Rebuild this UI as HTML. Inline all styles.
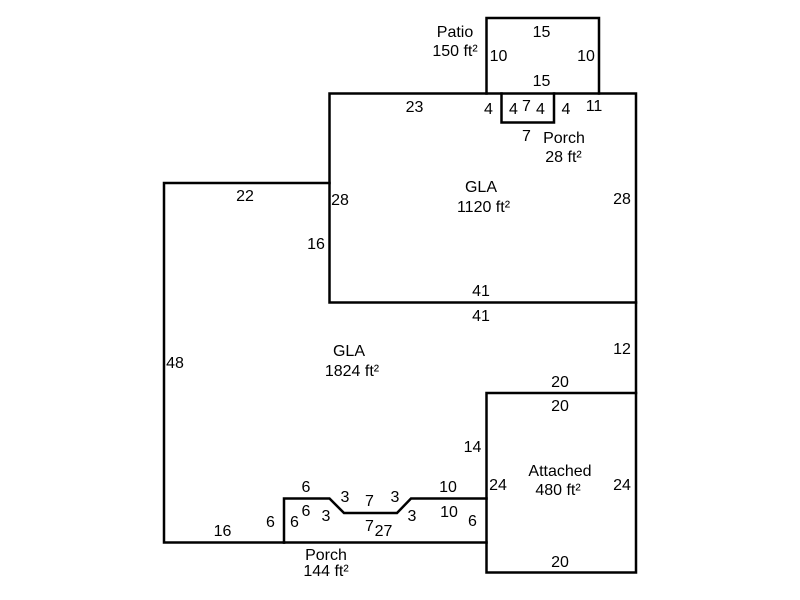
<!DOCTYPE html>
<html>
<head>
<meta charset="utf-8">
<style>
html,body{margin:0;padding:0;background:#fff;}
svg{display:block;}
text{font-family:"Liberation Sans",Arial,sans-serif;font-size:16px;fill:#000;text-anchor:middle;}
</style>
</head>
<body>
<svg width="800" height="600" viewBox="0 0 800 600" xmlns="http://www.w3.org/2000/svg">
<g fill="none" stroke="#000" stroke-width="2.5" stroke-linejoin="miter" stroke-linecap="square">
  <polyline points="486.5,93.5 486.5,18 599,18 599,93.5"/>
  <rect x="329.5" y="93.5" width="306.5" height="209"/>
  <polyline points="501.5,93.5 501.5,122.5 554,122.5 554,93.5"/>
  <polyline points="329.5,183 164,183 164,542.5 284,542.5"/>
  <line x1="636" y1="302.5" x2="636" y2="393"/>
  <rect x="486.5" y="393" width="149.5" height="179.5"/>
  <polyline points="284,542.5 284,498.5 329.5,498.5 344,513 397,513 411,498.5 486.5,498.5"/>
  <line x1="284" y1="542.5" x2="486.5" y2="542.5"/>
</g>
<g>
  <text x="455" y="37">Patio</text>
  <text x="455" y="56">150 ft²</text>
  <text x="541.5" y="37">15</text>
  <text x="498.5" y="61">10</text>
  <text x="586" y="61">10</text>
  <text x="541.5" y="86">15</text>
  <text x="414.5" y="112">23</text>
  <text x="488.5" y="114">4</text>
  <text x="513.5" y="114">4</text>
  <text x="526.5" y="111">7</text>
  <text x="540.5" y="114">4</text>
  <text x="566" y="114">4</text>
  <text x="594" y="111">11</text>
  <text x="526.5" y="141">7</text>
  <text x="564" y="143">Porch</text>
  <text x="563.5" y="162">28 ft²</text>
  <text x="481" y="192">GLA</text>
  <text x="483.5" y="212">1120 ft²</text>
  <text x="622" y="204">28</text>
  <text x="340" y="205">28</text>
  <text x="245" y="201">22</text>
  <text x="316" y="249">16</text>
  <text x="481" y="296">41</text>
  <text x="481" y="321">41</text>
  <text x="622" y="354">12</text>
  <text x="349" y="356">GLA</text>
  <text x="352" y="376">1824 ft²</text>
  <text x="175" y="368">48</text>
  <text x="560" y="387">20</text>
  <text x="560" y="411">20</text>
  <text x="472.5" y="452">14</text>
  <text x="498" y="490">24</text>
  <text x="560" y="476">Attached</text>
  <text x="558" y="495">480 ft²</text>
  <text x="622" y="490">24</text>
  <text x="472.5" y="526">6</text>
  <text x="560" y="567">20</text>
  <text x="306" y="492">6</text>
  <text x="345" y="502">3</text>
  <text x="369.5" y="506">7</text>
  <text x="395" y="502">3</text>
  <text x="448" y="492">10</text>
  <text x="306" y="516">6</text>
  <text x="294.5" y="527">6</text>
  <text x="326" y="521">3</text>
  <text x="412" y="521">3</text>
  <text x="449" y="517">10</text>
  <text x="270.5" y="527">6</text>
  <text x="222.5" y="536">16</text>
  <text x="369.5" y="531">7</text>
  <text x="383.5" y="536">27</text>
  <text x="326" y="560">Porch</text>
  <text x="326" y="576">144 ft²</text>
</g>
</svg>
</body>
</html>
